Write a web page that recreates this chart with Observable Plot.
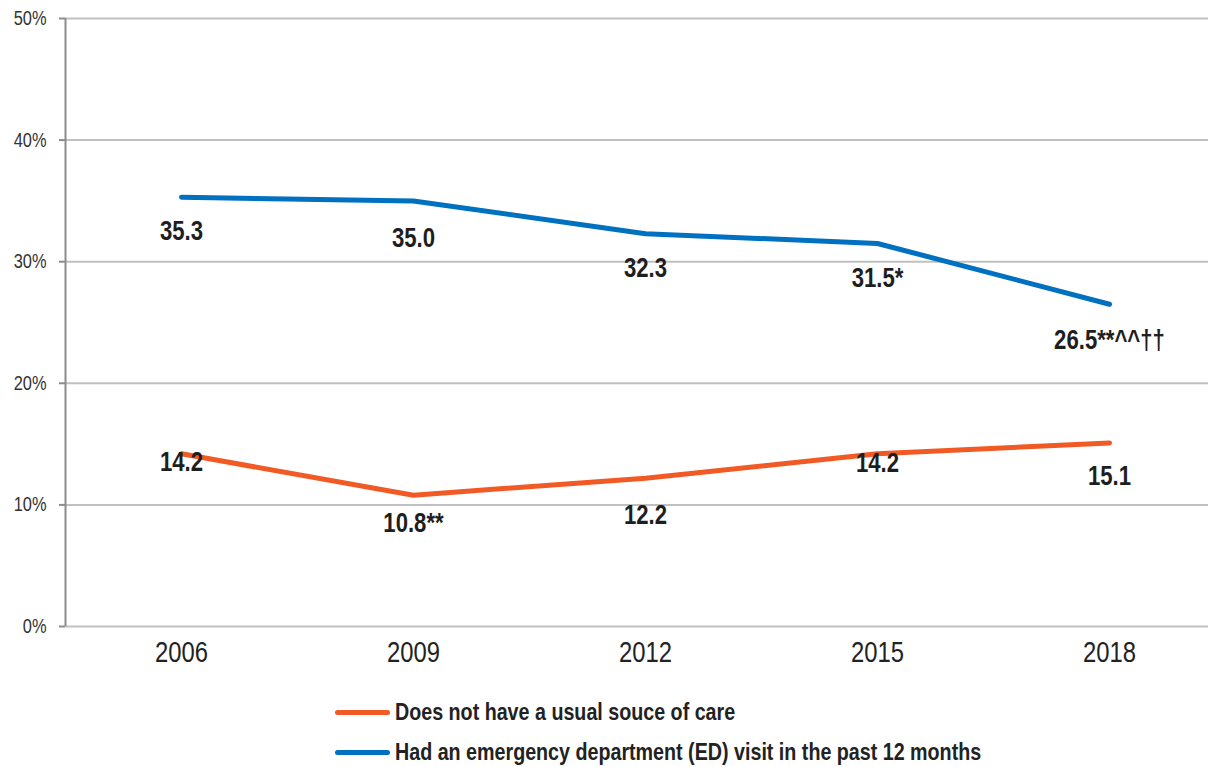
<!DOCTYPE html>
<html>
<head>
<meta charset="utf-8">
<script src="https://cdn.jsdelivr.net/npm/d3@7"></script>
<script src="https://cdn.jsdelivr.net/npm/@observablehq/plot@0.6"></script>
<style>
  html, body { margin: 0; padding: 0; background: #fff; overflow: hidden; }
  #chart svg { display: block; }
  .legend { padding-top: 12px; padding-left: 335px; font-family: "Liberation Sans", Arial, sans-serif; font-weight: bold; font-size: 24px; color: #222; }
  .legend .row { height: 40px; display: flex; align-items: center; }
  .legend .sw { width: 55px; height: 5px; border-radius: 3px; margin-right: 5px; flex: none; }
  .legend span { display: inline-block; transform: scaleX(0.82); transform-origin: left center; white-space: nowrap; }
</style>
</head>
<body>
<div id="chart"></div>
<div class="legend" id="legend"></div>
<script>
const years = [2006, 2009, 2012, 2015, 2018];
const seriesNames = [
  "Does not have a usual souce of care",
  "Had an emergency department (ED) visit in the past 12 months"
];
const noUsualSource = [14.2, 10.8, 12.2, 14.2, 15.1];
const edVisit = [35.3, 35.0, 32.3, 31.5, 26.5];
const noUsualSourceLabels = ["14.2", "10.8**", "12.2", "14.2", "15.1"];
const edVisitLabels = ["35.3", "35.0", "32.3", "31.5*", "26.5**^^††"];
const yTicks = [0, 10, 20, 30, 40, 50];
const colors = ["#F15A24", "#0070C0"];

// label offsets below points (styling, in px)
const noUsualSourceDy = [9, 28, 37, 10, 33];
const edVisitDy = [34, 37, 35, 35, 36];

const rows = [];
years.forEach((yr, i) => {
  rows.push({year: yr, value: noUsualSource[i], series: seriesNames[0], label: noUsualSourceLabels[i], dy: noUsualSourceDy[i]});
});
years.forEach((yr, i) => {
  rows.push({year: yr, value: edVisit[i], series: seriesNames[1], label: edVisitLabels[i], dy: edVisitDy[i]});
});

const font = '"Liberation Sans", Arial, sans-serif';

const labelMarks = rows.map(r => Plot.text([r], {
  x: "year", y: "value", text: "label", dy: r.dy, fontSize: 27, fontWeight: "bold",
  fontFamily: font, fill: "#1e1e1e", lineAnchor: "middle"
}));

const chart = Plot.plot({
  width: 1208,
  height: 680,
  marginLeft: 65,
  marginRight: 0,
  marginTop: 18,
  marginBottom: 54,
  style: {fontFamily: font, background: "#fff", overflow: "visible"},
  x: {domain: [2004.5, 2019.5], range: [65, 1225]},
  y: {domain: [0, 50]},
  color: {domain: seriesNames, range: colors},
  marks: [
    Plot.ruleY(yTicks, {stroke: "#c0c0c0", strokeWidth: 2}),
    Plot.ruleX([2004.5], {stroke: "#8c8c8c", strokeWidth: 2}),
    Plot.axisY({ticks: yTicks, tickFormat: d => d + "%", tickSize: 6, tickPadding: 13, fontSize: 20, stroke: "#8c8c8c", strokeWidth: 2, fill: "#333", label: null}),
    Plot.axisX({ticks: years, tickFormat: d => String(d), tickSize: 0, tickPadding: 15, fontSize: 29, fill: "#222", label: null}),
    Plot.line(rows, {x: "year", y: "value", z: "series", stroke: "series", strokeWidth: 5, strokeLinecap: "round", strokeLinejoin: "round"}),
    ...labelMarks
  ]
});
document.getElementById("chart").appendChild(chart);

// narrow the text horizontally to mimic a condensed face
chart.querySelectorAll("text").forEach(t => {
  const L = t.getComputedTextLength();
  if (L > 0) {
    t.setAttribute("textLength", (L * 0.82).toFixed(1));
    t.setAttribute("lengthAdjust", "spacingAndGlyphs");
  }
});

const legend = document.getElementById("legend");
seriesNames.forEach((name, i) => {
  const row = document.createElement("div");
  row.className = "row";
  const sw = document.createElement("div");
  sw.className = "sw";
  sw.style.background = colors[i];
  const t = document.createElement("span");
  t.textContent = name;
  row.appendChild(sw);
  row.appendChild(t);
  legend.appendChild(row);
});
</script>
</body>
</html>
